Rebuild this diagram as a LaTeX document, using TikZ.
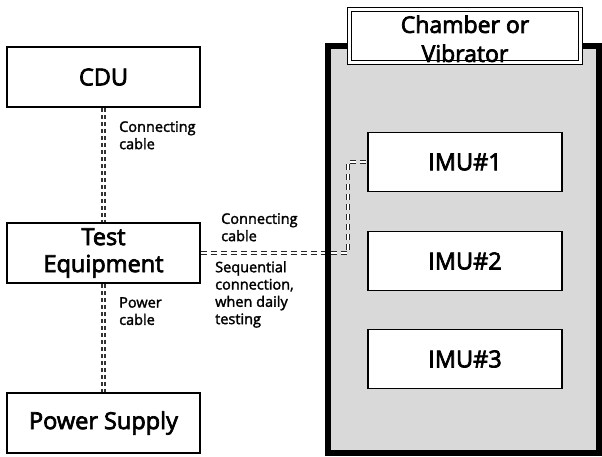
\documentclass[tikz,border=0pt]{standalone}
\usepackage{fontspec}
\setmainfont{Open Sans}
\newfontfamily\headfont{Open Sans}[FakeBold=3]
\newfontfamily\notefont{Open Sans}[FakeBold=2]
\begin{document}
\begin{tikzpicture}[x=1pt,y=-1pt,
  box/.style={draw=black, line width=1.9pt, fill=white, minimum width=193pt,
    minimum height=60pt, inner sep=0pt, align=center,
    font=\headfont\fontsize{23.5}{27}\selectfont},
  imubox/.style={box, minimum width=194pt, minimum height=59pt},
  cable/.style={draw=black!80, line width=1.7pt, double=white,
    double distance=1.5pt, dash pattern=on 4pt off 3pt},
  longcable/.style={cable, draw=black!85, dash pattern=on 6pt off 4pt},
  lbl/.style={anchor=north west, inner sep=0pt, align=left,
    font=\notefont\fontsize{14.5}{17.3}\selectfont},
  chamber/.style={line width=6pt},
  titlebox/.style={draw=black, line width=1.2pt, double=white,
    double distance=2.4pt, fill=white, minimum width=231pt,
    minimum height=53pt, inner sep=0pt, align=center,
    font=\headfont\fontsize{23}{29}\selectfont},
]
\useasboundingbox (0,0) rectangle (602,456);

% chamber interior
\fill[black!15] (325,43) rectangle (602,456);

% equipment on the bench
\node[box] (cdu)   at (103.5,77)  {CDU};
\node[box] (test)  at (103.5,253) {Test\\Equipment};
\node[box] (power) at (103.5,423) {Power Supply};

% units inside the chamber
\node[imubox] (imu1) at (465,162) {IMU\#1};
\node[imubox] (imu2) at (465,261) {IMU\#2};
\node[imubox] (imu3) at (465,359) {IMU\#3};

% cables
\coordinate (bend) at (348,253);
\draw[cable] (cdu.south) -- (test.north);
\draw[cable] (test.south) -- (power.north);
\draw[longcable] (test.east) -- (bend) |- (imu1.west);

% chamber wall over the cable
\draw[chamber] (328,46) rectangle (599,453);

% chamber title, set low so that the second line meets the frame
\node[titlebox] (title) at (465,36)
  {\raisebox{-9pt}[0pt][0pt]{\parbox{220pt}{\centering Chamber or\\Vibrator}}};

% cable labels
\node[lbl] (lcdu)   at (119,121) {Connecting\\cable};
\node[lbl] (lpow)   at (119,297) {Power\\cable};
\node[lbl] (limu)   at (221,213) {Connecting\\cable};
\node[lbl] (lseq)   at (215,261) {Sequential\\connection,\\when daily\\testing};
\end{tikzpicture}
\end{document}
